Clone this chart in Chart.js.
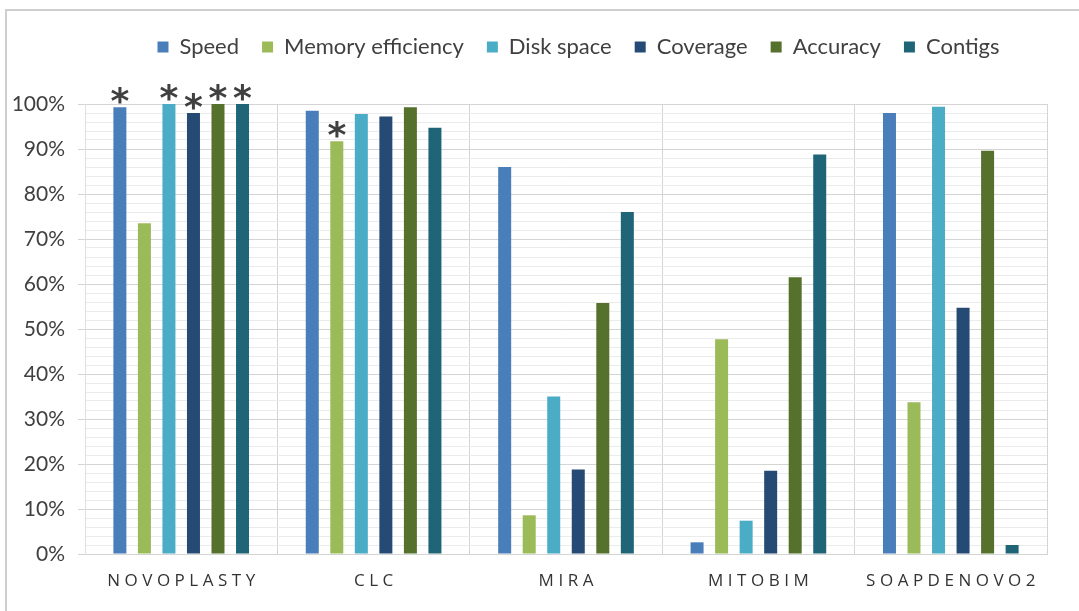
<!DOCTYPE html>
<html>
<head>
<meta charset="utf-8">
<script src="https://cdn.jsdelivr.net/npm/chart.js@4"></script>
<style>
  html, body { margin: 0; padding: 0; background: #fff; }
  #wrap { width: 1079px; height: 611px; }
</style>
</head>
<body>
<div id="wrap"><canvas id="myChart"></canvas></div>
<script>
const assemblers = ['NOVOPLASTY', 'CLC', 'MIRA', 'MITOBIM', 'SOAPDENOVO2'];

const speed    = [99.3, 98.5, 86.0,  2.6, 98.0];
const memory   = [73.5, 91.7,  8.6, 47.7, 33.7];
const disk     = [100,  97.8, 35.0,  7.4, 99.4];
const coverage = [98.0, 97.2, 18.8, 18.5, 54.7];
const accuracy = [100,  99.3, 55.8, 61.5, 89.6];
const contigs  = [100,  94.7, 76.0, 88.8,  2.0];

// [series index, category index] of bars marked with an asterisk
const starred = [[0, 0], [2, 0], [3, 0], [4, 0], [5, 0], [1, 1]];

const textColor = '#404040';

const frameAndStars = {
  id: 'frameAndStars',
  afterLayout(chart) {
    // centre the legend over the plot area
    chart.legend.left += 55;
    chart.legend.right += 55;
  },
  afterDraw(chart) {
    const c = chart.ctx;
    c.save();
    // outer frame (top + left edge)
    c.strokeStyle = '#cfcfcf';
    c.lineWidth = 2;
    c.beginPath();
    c.moveTo(6, 611);
    c.lineTo(6, 10);
    c.lineTo(1079, 10);
    c.stroke();

    // spaced category labels
    const x = chart.scales.x;
    c.fillStyle = '#333333';
    c.font = '17px "Open Sans"';
    c.letterSpacing = '4.5px';
    c.textAlign = 'center';
    c.textBaseline = 'middle';
    assemblers.forEach((name, i) => {
      c.fillText(name, x.getPixelForValue(i) + 2.25, chart.chartArea.bottom + 27);
    });
    c.letterSpacing = '0px';

    // asterisks over the best bars
    c.fillStyle = textColor;
    c.font = 'bold 36px "DejaVu Sans"';
    c.textBaseline = 'alphabetic';
    starred.forEach(([ds, idx]) => {
      const bar = chart.getDatasetMeta(ds).data[idx];
      c.fillText('*', bar.x, bar.y + 6);
    });
    c.restore();
  }
};

new Chart(document.getElementById('myChart'), {
  type: 'bar',
  data: {
    labels: assemblers,
    datasets: [
      { label: 'Speed', data: speed, backgroundColor: '#4a7ebb' },
      { label: 'Memory efficiency', data: memory, backgroundColor: '#9bbb59' },
      { label: 'Disk space', data: disk, backgroundColor: '#4bacc6' },
      { label: 'Coverage', data: coverage, backgroundColor: '#254a74' },
      { label: 'Accuracy', data: accuracy, backgroundColor: '#56712c' },
      { label: 'Contigs', data: contigs, backgroundColor: '#1f6577' }
    ]
  },
  options: {
    responsive: true,
    maintainAspectRatio: false,
    animation: false,
    categoryPercentage: 0.765,
    barPercentage: 0.53,
    layout: { padding: { left: 0, right: 32, top: 13, bottom: 0 } },
    plugins: {
      legend: {
        position: 'top',
        labels: {
          color: textColor,
          font: { family: 'Lato', size: 22 },
          boxWidth: 11,
          boxHeight: 11,
          padding: 23
        }
      },
      // empty spacer between legend and plot
      title: {
        display: true,
        text: '',
        weight: 500,
        font: { size: 10, lineHeight: 1.2 },
        padding: { top: 12, bottom: 12 }
      },
      tooltip: { enabled: false }
    },
    scales: {
      x: {
        afterFit(scale) { scale.height = 57; },
        grid: { color: '#d4d4d4', offset: true, drawTicks: false },
        border: { color: '#d4d4d4' },
        ticks: { display: false }
      },
      y: {
        min: 0,
        max: 100,
        afterFit(scale) { scale.width = 85; },
        grid: {
          color: ctx => ctx.tick && ctx.tick.value % 10 === 0 ? '#d4d4d4' : '#ebebeb',
          tickColor: ctx => ctx.tick && ctx.tick.value % 10 === 0 ? '#d4d4d4' : 'rgba(0,0,0,0)',
          tickLength: 7
        },
        border: { color: '#e0e0e0' },
        ticks: {
          stepSize: 2,
          autoSkip: false,
          padding: 13,
          color: textColor,
          font: { family: 'Lato', size: 21 },
          callback: v => v % 10 === 0 ? v + '%' : ''
        }
      }
    }
  },
  plugins: [frameAndStars]
});
</script>
</body>
</html>
